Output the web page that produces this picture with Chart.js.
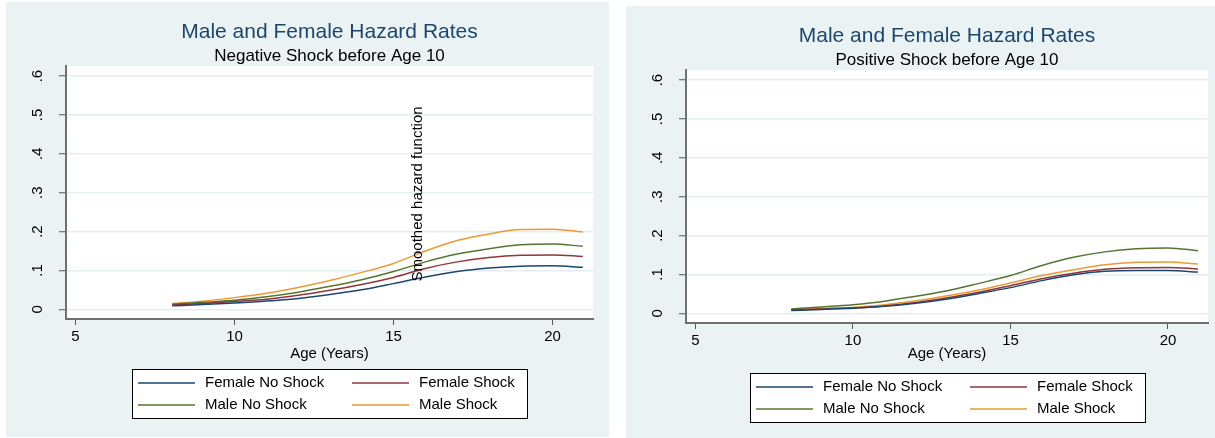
<!DOCTYPE html>
<html>
<head>
<meta charset="utf-8">
<script src="https://cdn.jsdelivr.net/npm/chart.js@4.4.1/dist/chart.umd.min.js"></script>
<style>
    body { margin: 0; background: #ffffff; width: 1215px; height: 438px; position: relative; overflow: hidden; }
    canvas { position: absolute; background: #eaf2f3; }
    #neg { left: 6px; top: 2px; }
    #pos { left: 626px; top: 6px; }
</style>
</head>
<body>
<canvas id="neg" width="603" height="435"></canvas>
<canvas id="pos" width="589" height="432"></canvas>
<script>
const ages = [8.04, 9, 10, 11, 12, 13, 14, 15, 16, 17, 18, 19, 20, 20.95];

// negative shock before age 10
const negFemaleNoShock = [0.009, 0.012, 0.016, 0.021, 0.028, 0.038, 0.050, 0.066, 0.083, 0.097, 0.106, 0.111, 0.112, 0.108];
const negFemaleShock   = [0.011, 0.015, 0.020, 0.026, 0.036, 0.049, 0.064, 0.082, 0.105, 0.122, 0.133, 0.139, 0.140, 0.136];
const negMaleNoShock   = [0.013, 0.018, 0.023, 0.032, 0.044, 0.059, 0.076, 0.097, 0.122, 0.142, 0.156, 0.166, 0.168, 0.162];
const negMaleShock     = [0.015, 0.021, 0.030, 0.041, 0.056, 0.074, 0.095, 0.118, 0.150, 0.177, 0.194, 0.205, 0.206, 0.199];

// positive shock before age 10
const posFemaleNoShock = [0.007, 0.010, 0.013, 0.018, 0.026, 0.037, 0.051, 0.066, 0.084, 0.099, 0.108, 0.110, 0.110, 0.106];
const posFemaleShock   = [0.009, 0.011, 0.014, 0.019, 0.028, 0.040, 0.054, 0.071, 0.089, 0.103, 0.113, 0.117, 0.118, 0.114];
const posMaleNoShock   = [0.011, 0.016, 0.022, 0.031, 0.044, 0.058, 0.077, 0.097, 0.123, 0.144, 0.158, 0.166, 0.168, 0.161];
const posMaleShock     = [0.009, 0.012, 0.015, 0.022, 0.032, 0.045, 0.060, 0.078, 0.097, 0.112, 0.125, 0.131, 0.132, 0.127];

const seriesLabels = ['Female No Shock', 'Female Shock', 'Male No Shock', 'Male Shock'];
const seriesColors = ['#1a476f', '#90353b', '#55752f', '#eb9a33'];

const xTicks = [5, 10, 15, 20];
const yTicks = [0, 0.1, 0.2, 0.3, 0.4, 0.5, 0.6];
const yTickLabels = ['0', '.1', '.2', '.3', '.4', '.5', '.6'];

const mainTitle = 'Male and Female Hazard Rates';
const xTitle = 'Age (Years)';
const noteText = 'Smoothed hazard function';
const fontFamily = "'Liberation Sans', Arial, Helvetica, sans-serif";

// white plot region, titles, vertical y labels, boxed legend
const stataDecor = {
    id: 'stataDecor',
    beforeDraw(chart) {
        const {ctx, chartArea: a} = chart;
        ctx.save();
        ctx.fillStyle = '#ffffff';
        ctx.fillRect(a.left, a.top, a.right - a.left, a.bottom - a.top);
        ctx.restore();
    },
    afterDraw(chart, args, opts) {
        const {ctx, chartArea: a, scales: {x, y}} = chart;
        const cx = (a.left + a.right) / 2;
        ctx.save();
        ctx.textAlign = 'center';
        ctx.textBaseline = 'middle';
        ctx.fillStyle = '#1a476f';
        ctx.font = '21px ' + fontFamily;
        ctx.fillText(mainTitle, cx, 30);
        ctx.fillStyle = '#000000';
        ctx.font = '17px ' + fontFamily;
        ctx.fillText(opts.subtitle, cx, 54);

        ctx.font = '15px ' + fontFamily;
        yTicks.forEach((v, i) => {
            ctx.save();
            ctx.translate(a.left - 28, y.getPixelForValue(v));
            ctx.rotate(-Math.PI / 2);
            ctx.fillText(yTickLabels[i], 0, 0);
            ctx.restore();
        });

        if(opts.note) {
            ctx.save();
            ctx.translate(x.getPixelForValue(15.9), y.getPixelForValue(0.0715));
            ctx.rotate(-Math.PI / 2);
            ctx.textAlign = 'left';
            ctx.textBaseline = 'alphabetic';
            ctx.fillText(opts.note, 0, 0);
            ctx.restore();
        }

        const bw = 395, bh = 49;
        const bx = Math.round(cx - bw / 2), by = Math.round(a.bottom + 50);
        ctx.fillStyle = '#ffffff';
        ctx.fillRect(bx, by, bw, bh);
        ctx.strokeStyle = '#000000';
        ctx.lineWidth = 1;
        ctx.strokeRect(bx + 0.5, by + 0.5, bw, bh);
        ctx.textAlign = 'left';
        chart.data.datasets.forEach((ds, i) => {
            const lx = bx + (i % 2 ? 220 : 6);
            const ly = by + (i < 2 ? 14 : 36);
            ctx.strokeStyle = ds.borderColor;
            ctx.lineWidth = 1.5;
            ctx.beginPath();
            ctx.moveTo(lx, ly);
            ctx.lineTo(lx + 57, ly);
            ctx.stroke();
            ctx.fillStyle = '#000000';
            ctx.fillText(ds.label, lx + 67, ly);
        });
        ctx.restore();
    }
};

function makeChart(canvas, series, subtitle, note, padRight, titlePad) {
    const datasets = series.map((vals, i) => ({
        label: seriesLabels[i],
        data: vals.map((v, j) => ({x: ages[j], y: v})),
        borderColor: seriesColors[i],
        borderWidth: 1.5,
        pointRadius: 0,
        cubicInterpolationMode: 'monotone',
        fill: false
    }));
    const xHeight = canvas.height - 317;
    return new Chart(canvas, {
        type: 'line',
        data: {datasets: datasets},
        plugins: [stataDecor],
        options: {
            responsive: false,
            animation: false,
            layout: {padding: {top: 64, right: padRight, bottom: 0, left: 0}},
            plugins: {
                legend: {display: false},
                tooltip: {enabled: false},
                stataDecor: {subtitle: subtitle, note: note}
            },
            scales: {
                x: {
                    type: 'linear',
                    min: 4.7,
                    max: 21.27,
                    afterBuildTicks: (scale) => { scale.ticks = xTicks.map(v => ({value: v})); },
                    afterFit: (scale) => { scale.height = xHeight; },
                    border: {display: true, color: '#707070', width: 2},
                    grid: {drawOnChartArea: false, drawTicks: true, tickLength: 6, tickColor: '#555555', tickWidth: 1},
                    ticks: {color: '#000000', font: {family: fontFamily, size: 15}, padding: 3, maxRotation: 0,
                        callback: (v) => String(v)},
                    title: {display: true, text: xTitle, color: '#000000', font: {family: fontFamily, size: 15},
                        padding: {top: 0, bottom: titlePad}}
                },
                y: {
                    type: 'linear',
                    min: -0.025,
                    max: 0.626,
                    afterBuildTicks: (scale) => { scale.ticks = yTicks.map(v => ({value: v})); },
                    afterFit: (scale) => { scale.width = 60; },
                    border: {display: true, color: '#707070', width: 2},
                    grid: {color: '#e4edef', lineWidth: 1.5, drawTicks: true, tickLength: 7, tickColor: '#555555', tickWidth: 1},
                    ticks: {color: 'rgba(0,0,0,0)', font: {family: fontFamily, size: 15}}
                }
            }
        }
    });
}

makeChart(document.getElementById('neg'),
    [negFemaleNoShock, negFemaleShock, negMaleNoShock, negMaleShock],
    'Negative Shock before Age 10', noteText, 16, 74);
makeChart(document.getElementById('pos'),
    [posFemaleNoShock, posFemaleShock, posMaleNoShock, posMaleShock],
    'Positive Shock before Age 10', null, 7, 75);
</script>
</body>
</html>
